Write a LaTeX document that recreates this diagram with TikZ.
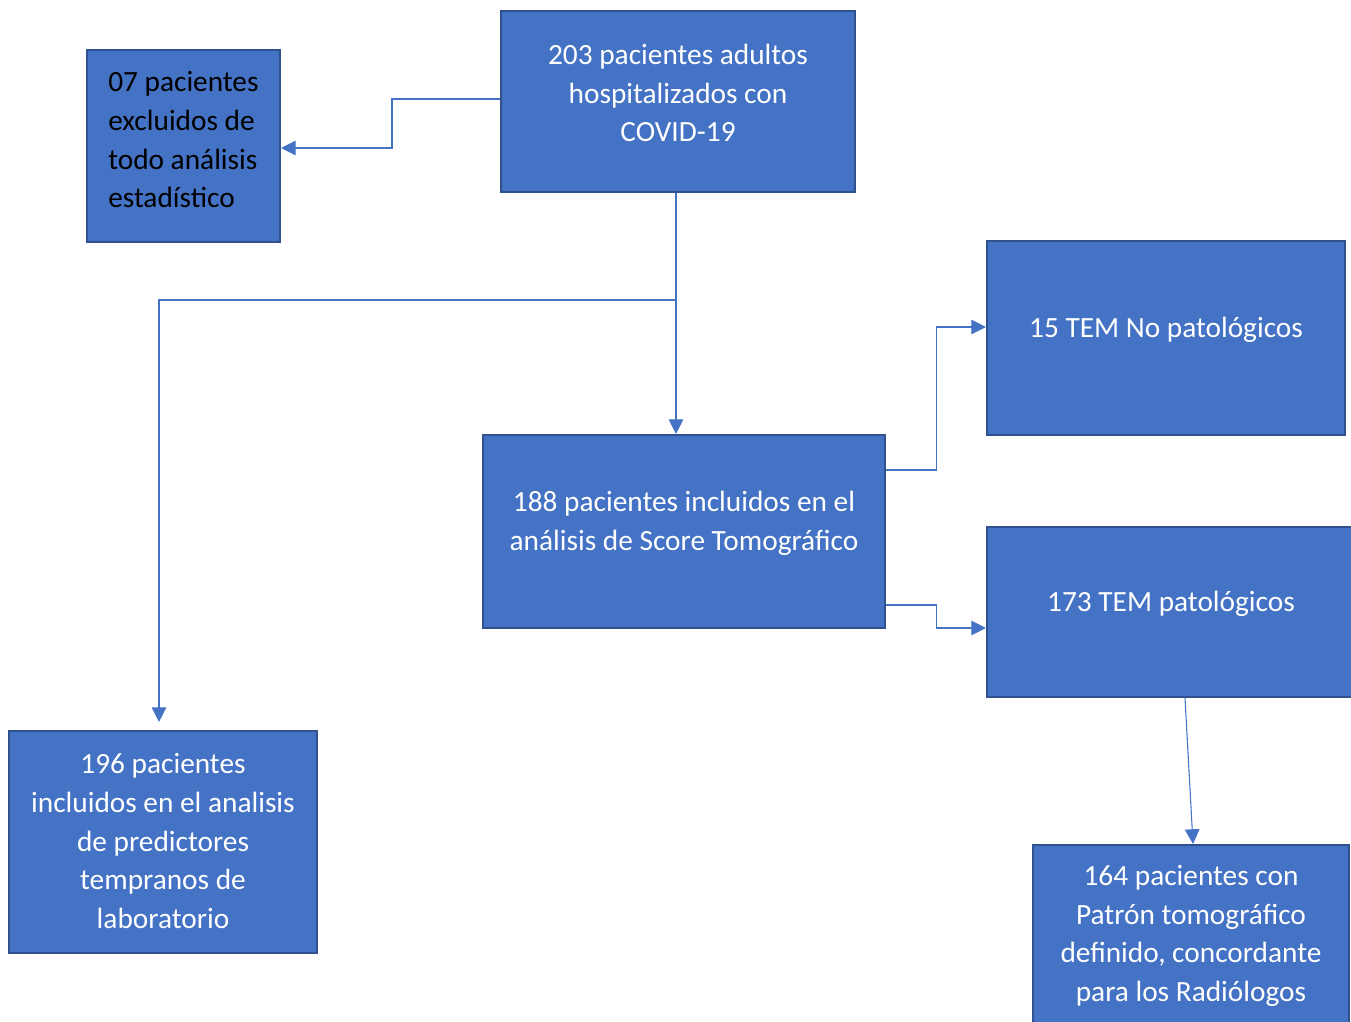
\documentclass[tikz,border=0pt]{standalone}
\usepackage{fontspec}
\setmainfont{Carlito}
\usetikzlibrary{arrows.meta,calc}

\definecolor{boxfill}{HTML}{4472C4}
\definecolor{boxline}{HTML}{2F528F}

\begin{document}
\begin{tikzpicture} [
    x=0.75pt, y=-0.75pt,
    box/.style={rectangle, draw=boxline, fill=boxfill, line width=1.6pt},
    sz/.style 2 args={minimum width=#1*0.75pt, minimum height=#2*0.75pt},
    txt/.style={text=white, align=center, inner sep=0pt, font=\fontsize{22}{29}\selectfont},
    link/.style={draw=boxfill, line width=0.8pt},
    >={Triangle[length=11pt,width=11pt]}
    ]
    \useasboundingbox (0,0) rectangle (1351,1021);

    %Nodes
    \node[box, sz={354}{181}]  (adultos)   at (678,101.5) {};
    \node[box, sz={193}{192}]  (excluidos) at (183.5,146) {};
    \node[box, sz={402}{193}]  (score)     at (684,531.5) {};
    \node[box, sz={358}{194}]  (nopat)     at (1166,338)  {};
    \node[box, sz={368}{170}]  (pat)       at (1171,612)  {};
    \node[box, sz={316}{198}]  (radiol)    at (1191,944)  {};
    \node[box, sz={308}{222}]  (lab)       at (163,842)   {};

    %Texts
    \node[txt]  (adultos-t)  at (678,93) {203 pacientes adultos\\hospitalizados con\\COVID-19};
    \node[txt, text=black, align=left, anchor=west] (excluidos-t) at (108,140)
        {07 pacientes\\excluidos de\\todo análisis\\estadístico};
    \node[txt]  (score-t)    at (684,523) {188 pacientes incluidos en el\\análisis de Score Tomográfico};
    \node[txt]  (nopat-t)    at (1166,330) {15 TEM No patológicos};
    \node[txt]  (pat-t)      at (1171,604) {173 TEM patológicos};
    \node[txt]  (radiol-t)   at (1191,936) {164 pacientes con\\Patrón tomográfico\\definido, concordante\\para los Radiólogos};
    \node[txt]  (lab-t)      at (163,841) {196 pacientes\\incluidos en el analisis\\de predictores\\tempranos de\\laboratorio};

    %Lines
    \coordinate (trunk) at ($(adultos.south)+(-2,0)$);
    \coordinate (split) at (trunk |- 0,300);
    \draw[link,->] (adultos.west |- 0,99) -| (392,148) -- (excluidos.east |- 0,148);
    \draw[link,->] (trunk) -- (trunk |- score.north);
    \draw[link,->, shorten >=6pt] (split) -| ($(lab.north)+(-4,0)$);
    \draw[link,->] ($(score.east)+(0,-61.5)$) -- ++(50,0) |- ($(nopat.west)+(0,-11)$);
    \draw[link,->] ($(score.east)+(0,73.5)$) -- ++(50,0) |- ($(pat.west)+(0,16)$);
    \draw[link,->] ($(pat.south)+(14,0)$) -- ($(radiol.north)+(2,0)$);
\end{tikzpicture}
\end{document}
